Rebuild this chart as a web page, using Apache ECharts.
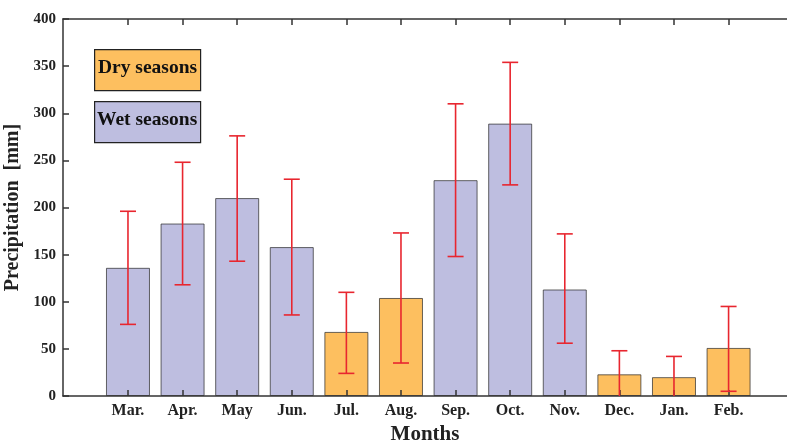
<!DOCTYPE html>
<html>
<head>
<meta charset="utf-8">
<script src="https://cdn.jsdelivr.net/npm/echarts@6/dist/echarts.min.js"></script>
<style>
  html, body { margin: 0; padding: 0; background: #fff; }
  #chart { width: 787px; height: 441px; }
</style>
</head>
<body>
<div id="chart"></div>
<script>
// data
const months = ['Mar.', 'Apr.', 'May', 'Jun.', 'Jul.', 'Aug.', 'Sep.', 'Oct.', 'Nov.', 'Dec.', 'Jan.', 'Feb.'];
const precipitation = [136, 183, 210, 158, 68, 104, 229, 289, 113, 23, 20, 51];
const errUpper = [196, 248, 276, 230, 110, 173, 310, 354, 172, 48, 42, 95];
const errLower = [76, 118, 143, 86, 24, 35, 148, 224, 56, -2, -2, 5];
const season = ['wet', 'wet', 'wet', 'wet', 'dry', 'dry', 'wet', 'wet', 'wet', 'dry', 'dry', 'dry'];
const yTicks = [0, 50, 100, 150, 200, 250, 300, 350, 400];

const colors = { dry: '#fdbf5f', wet: '#bebee0' };
const font = '"Liberation Serif", "Times New Roman", serif';
const positions = months.map(function (m, i) { return i + 1; });

const chart = echarts.init(document.getElementById('chart'));

const barData = precipitation.map(function (v, i) {
    return {
        value: [i + 1, v],
        itemStyle: {
            color: colors[season[i]],
            borderColor: 'rgba(40,40,40,0.7)',
            borderWidth: 1
        }
    };
});

const errData = precipitation.map(function (v, i) {
    return [i + 1, errLower[i], errUpper[i]];
});

chart.setOption({
    animation: false,
    grid: { left: 63, right: 0, top: 19, bottom: 45, containLabel: false, outerBoundsMode: 'none' },
    xAxis: [{
        type: 'value',
        min: -0.19,
        max: 13.07,
        position: 'bottom',
        z: 5,
        name: 'Months',
        nameLocation: 'middle',
        nameGap: 25,
        nameTextStyle: { fontFamily: font, fontWeight: 'bold', fontSize: 21, color: '#222' },
        axisLine: { onZero: false, lineStyle: { color: '#333', width: 1.5 } },
        axisTick: { inside: true, length: 6, customValues: positions, lineStyle: { color: '#333', width: 1.5 } },
        axisLabel: {
            customValues: positions,
            formatter: function (v) { return months[Math.round(v) - 1] || ''; },
            fontFamily: font, fontWeight: 'bold', fontSize: 16, color: '#222', margin: 7
        },
        splitLine: { show: false }
    }, {
        type: 'value',
        min: -0.19,
        max: 13.07,
        position: 'top',
        z: 5,
        axisLine: { onZero: false, lineStyle: { color: '#333', width: 1.5 } },
        axisTick: { inside: true, length: 6, customValues: positions, lineStyle: { color: '#333', width: 1.5 } },
        axisLabel: { show: false },
        splitLine: { show: false }
    }],
    yAxis: {
        type: 'value',
        min: 0,
        max: 400,
        interval: 50,
        z: 5,
        name: 'Precipitation  [mm]',
        nameLocation: 'middle',
        nameGap: 36,
        nameTextStyle: { fontFamily: font, fontWeight: 'bold', fontSize: 20, color: '#222' },
        axisLine: { show: true, onZero: false, lineStyle: { color: '#333', width: 1.5 } },
        axisTick: { show: true, inside: true, length: 6, lineStyle: { color: '#333', width: 1.5 } },
        axisLabel: { fontFamily: font, fontWeight: 'bold', fontSize: 15, color: '#222', margin: 7 },
        splitLine: { show: false }
    },
    graphic: [
        {
            type: 'rect', left: 94, top: 49,
            shape: { width: 106, height: 41 },
            style: { fill: colors.dry, stroke: '#222', lineWidth: 1.2 }
        },
        {
            type: 'text', left: 98, top: 58,
            style: { text: 'Dry seasons', font: 'bold 19.5px ' + font, fill: '#111' }
        },
        {
            type: 'rect', left: 94, top: 101,
            shape: { width: 106, height: 41 },
            style: { fill: colors.wet, stroke: '#222', lineWidth: 1.2 }
        },
        {
            type: 'text', left: 97, top: 110,
            style: { text: 'Wet seasons', font: 'bold 19.5px ' + font, fill: '#111' }
        }
    ],
    series: [{
        type: 'bar',
        barWidth: 44,
        data: barData
    }, {
        type: 'custom',
        clip: true,
        data: errData,
        z: 10,
        renderItem: function (params, api) {
            const x = api.value(0);
            const lo = api.coord([x, api.value(1)]);
            const hi = api.coord([x, api.value(2)]);
            const cap = 8;
            const style = { stroke: '#e8262f', lineWidth: 1.6 };
            return {
                type: 'group',
                children: [
                    { type: 'line', shape: { x1: hi[0], y1: hi[1], x2: lo[0], y2: lo[1] }, style: style },
                    { type: 'line', shape: { x1: hi[0] - cap, y1: hi[1], x2: hi[0] + cap, y2: hi[1] }, style: style },
                    { type: 'line', shape: { x1: lo[0] - cap, y1: lo[1], x2: lo[0] + cap, y2: lo[1] }, style: style }
                ]
            };
        }
    }]
});
</script>
</body>
</html>
